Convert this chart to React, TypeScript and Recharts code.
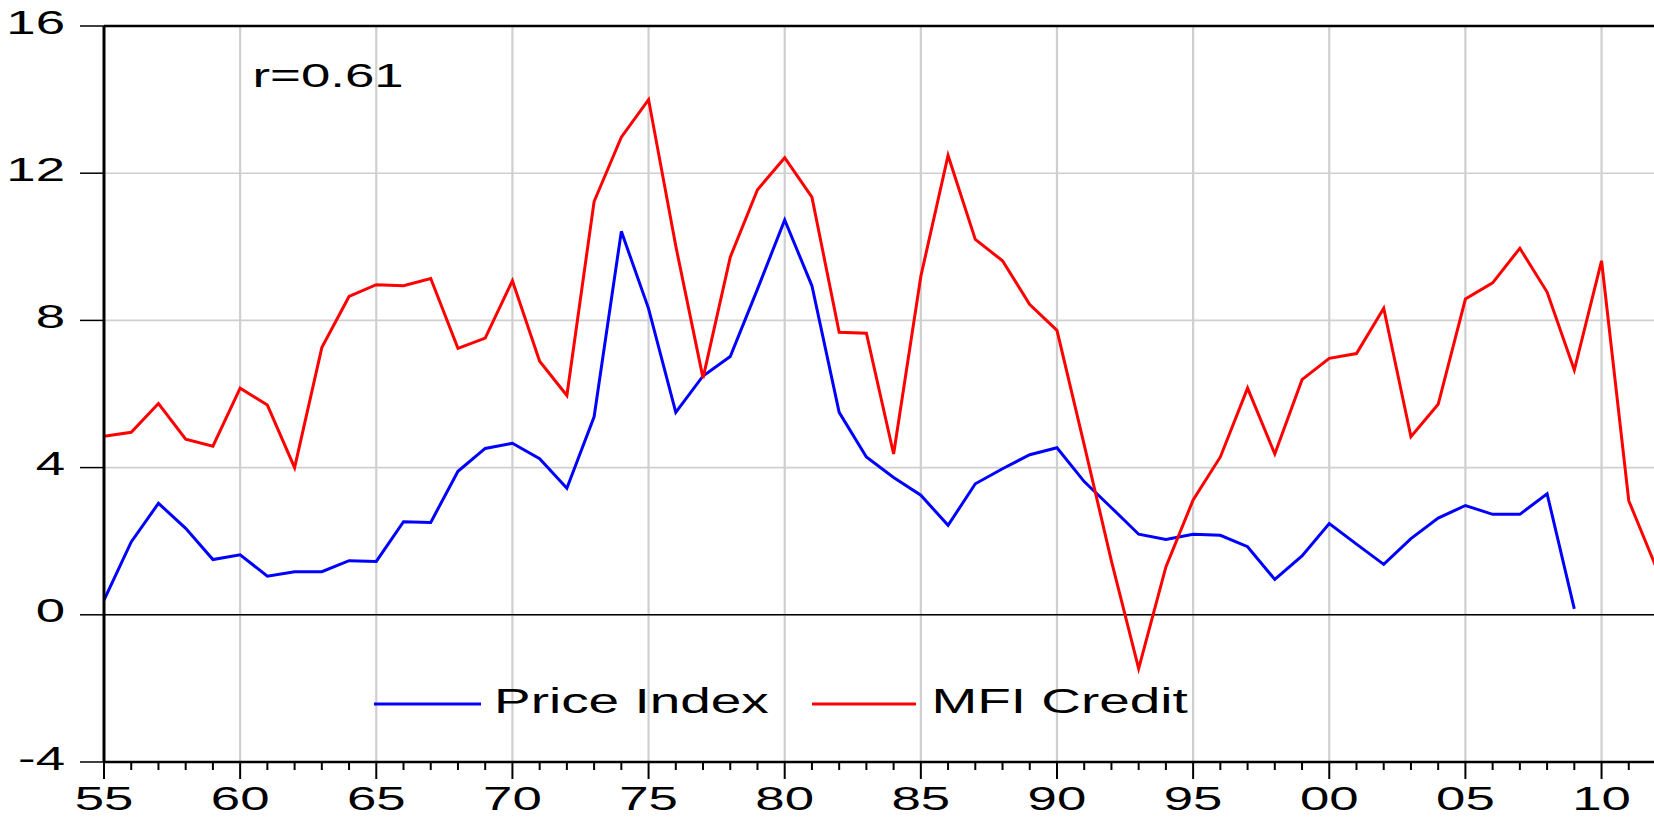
import { CartesianGrid, Line, LineChart, ReferenceLine, XAxis, YAxis } from "recharts";

const years = [
  1955, 1956, 1957, 1958, 1959, 1960, 1961, 1962, 1963, 1964,
  1965, 1966, 1967, 1968, 1969, 1970, 1971, 1972, 1973, 1974,
  1975, 1976, 1977, 1978, 1979, 1980, 1981, 1982, 1983, 1984,
  1985, 1986, 1987, 1988, 1989, 1990, 1991, 1992, 1993, 1994,
  1995, 1996, 1997, 1998, 1999, 2000, 2001, 2002, 2003, 2004,
  2005, 2006, 2007, 2008, 2009, 2010, 2011, 2012,
];

// Price Index (ends in 2009)
const priceIndex = [
  0.4, 1.98, 3.03, 2.35, 1.5, 1.63, 1.05, 1.17, 1.17, 1.47,
  1.45, 2.53, 2.51, 3.9, 4.52, 4.66, 4.24, 3.44, 5.38, 10.42,
  8.32, 5.5, 6.49, 7.02, 8.85, 10.73, 8.94, 5.5, 4.29, 3.73,
  3.25, 2.43, 3.56, 3.97, 4.35, 4.54, 3.62, 2.91, 2.19, 2.05,
  2.19, 2.16, 1.85, 0.96, 1.6, 2.48, 1.92, 1.37, 2.07, 2.63,
  2.97, 2.73, 2.73, 3.29, 0.16,
];

// MFI Credit
const mfiCredit = [
  4.85, 4.96, 5.74, 4.77, 4.58, 6.16, 5.7, 4.0, 7.26, 8.65,
  8.97, 8.94, 9.14, 7.24, 7.52, 9.08, 6.89, 5.96, 11.23, 12.98,
  14.0, 10.02, 6.43, 9.72, 11.55, 12.42, 11.35, 7.68, 7.65, 4.37,
  9.2, 12.48, 10.2, 9.62, 8.43, 7.73, 4.62, 1.46, -1.46, 1.3,
  3.12, 4.29, 6.16, 4.37, 6.39, 6.97, 7.1, 8.33, 4.84, 5.72,
  8.58, 9.02, 9.96, 8.77, 6.65, 9.62, 3.1, 1.3,
];

const yTicks = [-4, 0, 4, 8, 12, 16];
const majorYears = [1960, 1965, 1970, 1975, 1980, 1985, 1990, 1995, 2000, 2005, 2010];

const data = years.map((year, i) => ({
  year,
  price: i < priceIndex.length ? priceIndex[i] : null,
  credit: mfiCredit[i],
}));

const FONT = "'Liberation Sans', Arial, sans-serif";
const GRID = "#cfcfcf";

function YTick(props: any) {
  const { x, y, payload } = props;
  return (
    <g>
      <line x1={x - 24} x2={x} y1={y} y2={y} stroke="#000" strokeWidth={1.5} />
      <text
        transform={`translate(${x - 39},${y + 7.5}) scale(1.6,1)`}
        textAnchor="end"
        fontSize={33}
        fontFamily={FONT}
        fill="#000"
      >
        {payload.value}
      </text>
    </g>
  );
}

function XTick(props: any) {
  const { x, y, payload } = props;
  const yr = payload.value as number;
  const major = yr % 5 === 0;
  return (
    <g>
      <line x1={x} x2={x} y1={y} y2={y + (major ? 17 : 8)} stroke="#000" strokeWidth={2} />
      {major && (
        <text
          transform={`translate(${x},809.5) scale(1.6,1)`}
          textAnchor="middle"
          fontSize={33}
          fontFamily={FONT}
          fill="#000"
        >
          {String(yr).slice(2)}
        </text>
      )}
    </g>
  );
}

export default function App() {
  return (
    <div
      style={{
        position: "fixed",
        left: 0,
        top: 0,
        width: 1654,
        height: 817,
        overflow: "hidden",
        background: "#fff",
      }}
    >
      <LineChart width={1656} height={817} data={data} margin={{ top: 26, right: 0, bottom: 0, left: 0 }}>
        <CartesianGrid vertical={false} stroke={GRID} strokeWidth={1.6} />
        {majorYears.map((yr) => (
          <ReferenceLine key={yr} x={yr} stroke={GRID} strokeWidth={2.2} />
        ))}
        <ReferenceLine y={0} stroke="#000" strokeWidth={1.5} />
        <ReferenceLine y={16} stroke="#000" strokeWidth={2.5} />
        <XAxis
          dataKey="year"
          type="number"
          domain={[1955, 2012]}
          ticks={years}
          interval={0}
          height={55}
          tickSize={0}
          tickMargin={0}
          tickLine={false}
          axisLine={{ stroke: "#000", strokeWidth: 2.5 }}
          tick={XTick}
          allowDataOverflow
        />
        <YAxis
          domain={[-4, 16]}
          ticks={yTicks}
          width={104}
          tickSize={0}
          tickMargin={0}
          tickLine={false}
          axisLine={{ stroke: "#000", strokeWidth: 3 }}
          tick={YTick}
          allowDataOverflow
        />
        <Line
          dataKey="price"
          type="linear"
          stroke="#0000ff"
          strokeWidth={3}
          dot={false}
          isAnimationActive={false}
        />
        <Line
          dataKey="credit"
          type="linear"
          stroke="#ff0000"
          strokeWidth={3}
          dot={false}
          isAnimationActive={false}
        />
      </LineChart>
      <svg
        width={1654}
        height={817}
        style={{ position: "absolute", left: 0, top: 0, pointerEvents: "none" }}
      >
        <text transform="translate(252.5,87) scale(1.6,1)" fontSize={33} fontFamily={FONT} fill="#000">
          r=0.61
        </text>
        <line x1={374} x2={481} y1={704} y2={704} stroke="#0000ff" strokeWidth={3} />
        <text transform="translate(494,713) scale(1.57,1)" fontSize={35} fontFamily={FONT} fill="#000">
          Price Index
        </text>
        <line x1={812} x2={916} y1={704} y2={704} stroke="#ff0000" strokeWidth={3} />
        <text transform="translate(931.5,713) scale(1.57,1)" fontSize={35} fontFamily={FONT} fill="#000">
          MFI Credit
        </text>
      </svg>
    </div>
  );
}
